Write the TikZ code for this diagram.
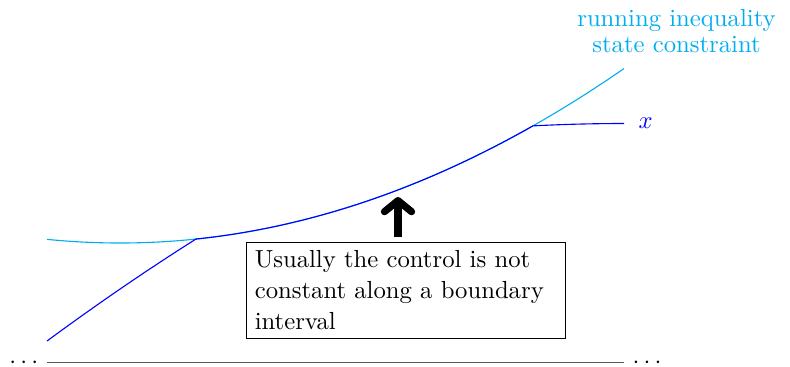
\documentclass[tikz,border=0pt]{standalone}
\usetikzlibrary{arrows.meta}
\definecolor{conscol}{RGB}{0,174,239}
\begin{document}
\begin{tikzpicture}[x=40.5pt,y=-40.5pt,
  cons/.style={conscol, line width=0.45pt},
  traj/.style={blue, line width=0.45pt},
  axisline/.style={black!65, line width=0.7pt},
  notebox/.style={draw, line width=0.45pt, text width=122.5pt, align=left, anchor=north west, font=\fontsize{10}{12.6}\selectfont},
  bigarrow/.style={line width=2.9pt, line cap=butt, -{Straight Barb[length=4.5pt,width=11pt,round]}}]
\useasboundingbox (0,0) rectangle (7.9,3.66);
% time axis
\coordinate (t0) at (0.47,3.625);
\coordinate (t1) at (6.24,3.625);
\draw[axisline] (t0) -- (t1);
\node[anchor=east] (dl) at (t0) {$\cdots$};
\node[anchor=west] (dr) at (t1) {$\cdots$};
% constraint
\draw[cons] plot[domain=0.47:6.24, samples=80] (\x, {2.43-0.0687*(\x-1.2)*(\x-1.2)});
\node[conscol, align=center, font=\fontsize{10}{10.4}\selectfont] (clab) at (6.765,0.31) {running inequality\\state constraint};
% trajectory
\coordinate (x0) at (0.47,3.41);
\coordinate (xa) at (1.96,2.39);
\coordinate (xe) at (6.24,1.235);
\draw[traj] (x0) .. controls (1.0,3.02) and (1.5,2.68) .. (xa)
  -- plot[domain=1.96:5.33, samples=60] (\x, {2.43-0.0687*(\x-1.2)*(\x-1.2)})
  .. controls (5.6,1.245) and (5.9,1.235) .. (xe);
\node[blue, anchor=west] (xlab) at (6.3,1.235) {$x$};
% note
\node[notebox] (note) at (2.46,2.415) {Usually the control is not constant along a boundary interval\par};
\coordinate (ab) at (3.98,2.37);
\coordinate (at) at (3.98,1.97);
\draw[bigarrow] (ab) -- (at);
\end{tikzpicture}
\end{document}
